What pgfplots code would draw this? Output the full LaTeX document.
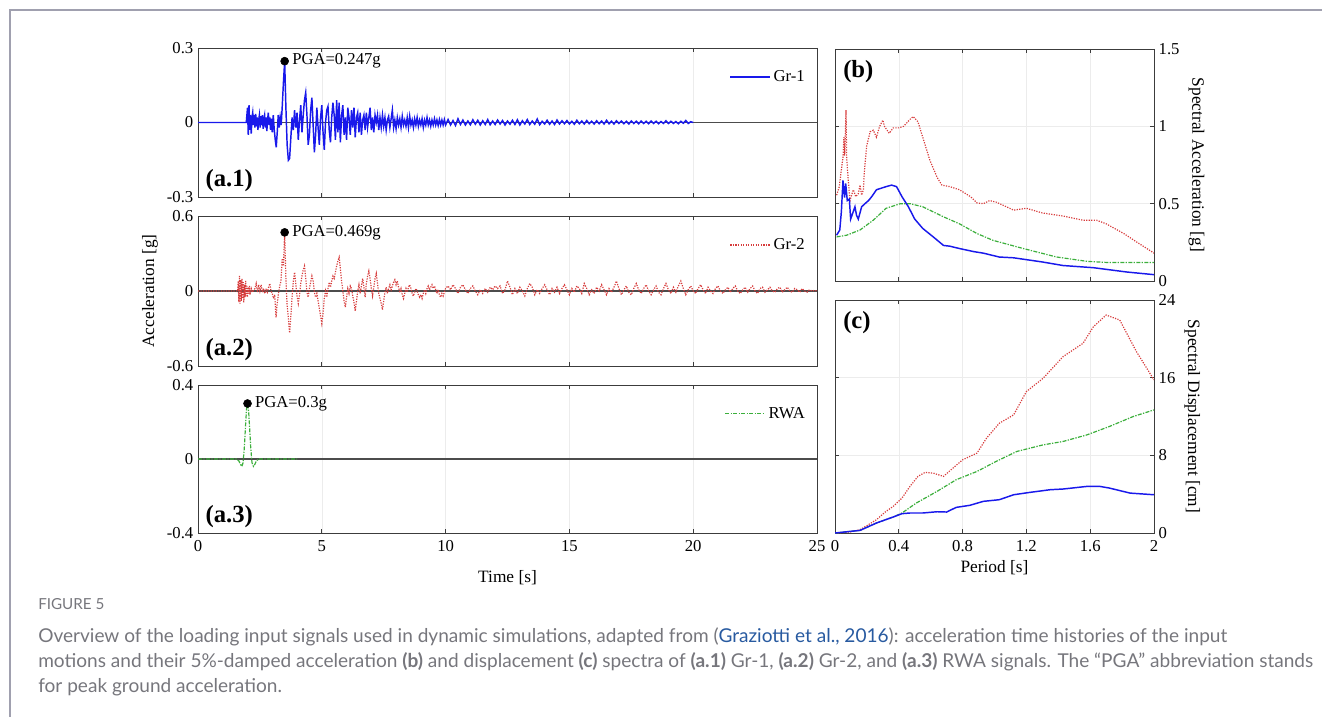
\documentclass[border=0pt]{standalone}
\usepackage{fontspec}
\setmainfont{Liberation Serif}
\newfontfamily\capfont{Lato}
\usepackage{pgfplots}
\pgfplotsset{compat=1.18}
\definecolor{gblue}{RGB}{25,25,235}
\definecolor{gred}{RGB}{215,60,60}
\definecolor{ggreen}{RGB}{60,175,60}
\definecolor{framec}{RGB}{160,160,175}
\definecolor{capgray}{RGB}{118,118,124}
\definecolor{caplink}{RGB}{40,90,160}
\definecolor{axc}{RGB}{60,60,60}
\pgfplotsset{
  every axis/.append style={
    scale only axis,
    font=\fontsize{12.5}{14}\selectfont,
    /pgf/number format/assume math mode=true,
    axis line style={axc, line width=0.6pt},
    every tick/.style={axc, line width=0.5pt},
    major tick length=3pt,
    grid=major,
    major grid style={gray!15, line width=0.4pt},
    label style={font=\fontsize{13}{15}\selectfont},
    xticklabel style={yshift=-2pt},
    legend style={draw=none, fill=none, inner sep=0pt, font=\fontsize{12.5}{14}\selectfont},
    legend cell align=left,
    legend image code/.code={\draw[#1] (0pt,0pt) -- (30pt,0pt);},
  },
}
\tikzset{
  tagstyle/.style={font=\bfseries\fontsize{18.5}{20}\selectfont, inner sep=0pt},
  pgastyle/.style={anchor=west, inner sep=0pt, xshift=5.5pt},
}
\begin{document}
\begin{tikzpicture}
\path[use as bounding box] (0pt,0pt) rectangle (991.5pt,-537.75pt);
\draw[framec, line width=1.1pt] (7.5pt,-537.75pt) -- (7.5pt,-7.5pt) -- (991.5pt,-7.5pt);

% ---------------- (a.1)
\begin{axis}[at={(148.5pt,-36pt)}, anchor=north west, width=464.25pt, height=111.75pt,
  xmin=0, xmax=25, ymin=-0.3, ymax=0.3,
  xtick={0,5,10,15,20,25}, xticklabels={},
  ytick={-0.3,0,0.3}, yticklabels={-0.3,0,0.3},
  legend style={at={(0.985,0.87)}, anchor=north east}]
\addplot[gray!60!black, line width=0.8pt, forget plot] coordinates {(0,0) (25,0)};
\addplot[gblue, line width=1.1pt] coordinates {
(0,0) (1.95,0) (2.00,0.06) (2.03,-0.05) (2.06,0.07) (2.09,-0.03) (2.12,0.03) (2.15,-0.045) (2.18,0.02) (2.21,0.04)
(2.24,-0.01) (2.27,0.03) (2.30,-0.02) (2.33,0.035) (2.36,-0.015) (2.39,0.02) (2.42,-0.03) (2.45,0.01) (2.48,0.03) (2.51,-0.02)
(2.54,0.025) (2.57,-0.01) (2.60,0.03) (2.63,-0.025) (2.66,0.015) (2.69,0.03) (2.72,-0.02) (2.75,0.02) (2.78,-0.035) (2.81,0.01)
(2.84,0.04) (2.87,-0.01) (2.90,0.02) (2.93,-0.03) (2.96,0.015) (3.00,-0.04) (3.04,0.03) (3.08,-0.03) (3.12,-0.07) (3.16,-0.10)
(3.20,-0.04) (3.24,0.03) (3.28,-0.02) (3.32,0.02) (3.36,-0.01) (3.40,0.06) (3.45,0.16) (3.50,0.247) (3.55,0.06) (3.60,-0.09)
(3.65,-0.152) (3.70,-0.145) (3.75,-0.06) (3.80,0.02) (3.85,-0.03) (3.90,0.05) (3.95,-0.02) (4.00,0.04) (4.05,-0.07) (4.10,0.01)
(4.15,0.07) (4.20,-0.04) (4.25,0.03) (4.30,0.09) (4.35,0.12) (4.40,0.03) (4.45,-0.09) (4.50,-0.05) (4.55,0.05) (4.60,0.10)
(4.65,-0.01) (4.70,-0.12) (4.75,-0.05) (4.80,0.06) (4.85,-0.02) (4.90,-0.09) (4.95,0.02) (5.00,0.07) (5.05,-0.04) (5.10,-0.11)
(5.15,0.00) (5.20,0.05) (5.25,0.065) (5.30,-0.03) (5.35,-0.08) (5.40,0.02) (5.45,0.08) (5.50,0.03) (5.55,-0.07) (5.60,0.09)
(5.65,-0.04) (5.70,0.08) (5.75,-0.08) (5.80,0.03) (5.85,0.07) (5.90,-0.05) (5.95,0.02) (6.00,-0.07) (6.05,0.06) (6.10,0.02)
(6.15,-0.05) (6.20,0.05) (6.25,-0.02) (6.30,0.06) (6.35,-0.06) (6.40,0.02) (6.45,0.04) (6.50,-0.04) (6.55,0.04) (6.60,-0.05)
(6.65,0.01) (6.70,0.03) (6.75,-0.03) (6.80,0.04) (6.85,-0.02) (6.90,0.02) (6.95,0.06) (7.00,-0.03) (7.05,0.02) (7.10,-0.04)
(7.15,0.03) (7.20,0.00) (7.25,0.03) (7.30,-0.03) (7.35,0.02) (7.40,-0.02) (7.45,0.03) (7.50,-0.015) (7.55,0.02) (7.60,-0.03)
(7.65,0.01) (7.70,0.025) (7.75,-0.02) (7.80,0.015) (7.85,0.05) (7.90,-0.02) (7.95,0.01) (8.00,-0.025) (8.05,0.02) (8.10,-0.01)
(8.15,0.015) (8.20,-0.02) (8.25,0.025) (8.30,-0.01) (8.35,0.01) (8.40,-0.015) (8.45,0.02) (8.50,-0.02) (8.55,0.025) (8.60,-0.01)
(8.65,0.01) (8.70,-0.02) (8.75,0.015) (8.80,-0.01) (8.85,0.02) (8.90,-0.015) (8.95,0.01) (9.00,-0.01) (9.05,0.015) (9.10,-0.02)
(9.15,0.01) (9.20,-0.01) (9.25,0.02) (9.30,-0.01) (9.35,0.01) (9.40,-0.015) (9.45,0.01) (9.50,-0.01) (9.55,0.015) (9.60,-0.01)
(9.65,0.01) (9.70,-0.012) (9.75,0.012) (9.80,-0.01) (9.85,0.01) (9.90,-0.01) (9.95,0.012) (10.0,-0.01)
(10.1,0.012) (10.2,-0.01) (10.3,0.008) (10.4,-0.012) (10.5,0.015) (10.6,-0.008) (10.7,0.01) (10.8,-0.01) (10.9,0.006) (11.0,-0.009)
(11.1,0.011) (11.2,-0.007) (11.3,0.009) (11.4,-0.01) (11.5,0.007) (11.6,-0.008) (11.7,0.012) (11.8,-0.009) (11.9,0.006) (12.0,-0.008)
(12.1,0.01) (12.2,-0.006) (12.3,0.008) (12.4,-0.01) (12.5,0.006) (12.6,-0.007) (12.7,0.009) (12.8,-0.008) (12.9,0.011) (13.0,-0.01)
(13.1,0.007) (13.2,-0.006) (13.3,0.012) (13.4,-0.008) (13.5,0.006) (13.6,-0.007) (13.7,0.014) (13.8,-0.009) (13.9,0.005) (14.0,-0.006)
(14.1,0.009) (14.2,-0.007) (14.3,0.006) (14.4,-0.008) (14.5,0.01) (14.6,-0.006) (14.7,0.007) (14.8,-0.005) (14.9,0.008) (15.0,-0.006)
(15.1,0.005) (15.2,-0.007) (15.3,0.009) (15.4,-0.005) (15.5,0.006) (15.6,-0.006) (15.7,0.008) (15.8,-0.005) (15.9,0.005) (16.0,-0.006)
(16.1,0.007) (16.2,-0.005) (16.3,0.006) (16.4,-0.006) (16.5,0.009) (16.6,-0.005) (16.7,0.005) (16.8,-0.006) (16.9,0.007) (17.0,-0.004)
(17.1,0.006) (17.2,-0.005) (17.3,0.005) (17.4,-0.006) (17.5,0.006) (17.6,-0.004) (17.7,0.005) (17.8,-0.005) (17.9,0.006) (18.0,-0.004)
(18.1,0.005) (18.2,-0.005) (18.3,0.006) (18.4,-0.004) (18.5,0.005) (18.6,-0.005) (18.7,0.004) (18.8,-0.004) (18.9,0.007) (19.0,-0.004)
(19.1,0.005) (19.2,-0.004) (19.3,0.004) (19.4,-0.005) (19.5,0.005) (19.6,-0.003) (19.7,0.008) (19.8,-0.004) (19.9,0.003) (20.0,0)
};
\addlegendentry{Gr-1}
\addplot[only marks, mark=*, mark size=3pt, black, forget plot] coordinates {(3.5,0.247)};
\node[pgastyle] at (axis cs:3.5,0.247) {PGA=0.247g};
\node[tagstyle, anchor=south west, xshift=5.5pt, yshift=4pt] at (rel axis cs:0,0) {(a.1)};
\end{axis}

% ---------------- (a.2)
\begin{axis}[at={(148.5pt,-162pt)}, anchor=north west, width=464.25pt, height=112.5pt,
  xmin=0, xmax=25, ymin=-0.6, ymax=0.6,
  xtick={0,5,10,15,20,25}, xticklabels={},
  ytick={-0.6,0,0.6}, yticklabels={-0.6,0,0.6},
  ylabel={Acceleration [g]},
  legend style={at={(0.985,0.87)}, anchor=north east}]
\addplot[gray!60!black, line width=0.8pt, forget plot] coordinates {(0,0) (25,0)};
\addplot[gred, line width=0.9pt, densely dotted] coordinates {
(0,0) (1.60,0) (1.625,0.08) (1.65,-0.09) (1.675,0.12) (1.70,-0.10) (1.725,0.09) (1.75,-0.08) (1.775,0.10) (1.80,-0.06)
(1.825,0.07) (1.85,-0.09) (1.875,0.05) (1.90,-0.05) (1.925,0.08) (1.95,-0.04) (1.975,0.04) (2.00,-0.05) (2.025,0.03) (2.05,-0.02)
(2.075,0.04) (2.10,-0.03) (2.15,0.02) (2.20,-0.01) (2.25,0.01) (2.30,0.02) (2.35,0.06) (2.40,-0.01) (2.45,0.05) (2.50,0.00)
(2.55,0.05) (2.60,-0.01) (2.65,0.02) (2.70,-0.02) (2.75,0.01) (2.80,-0.01) (2.85,0.03) (2.90,0.06) (2.95,0.00)
(3.00,-0.02) (3.05,-0.06) (3.10,-0.03) (3.15,-0.21) (3.20,-0.10) (3.25,-0.02) (3.30,0.04) (3.35,0.08) (3.40,0.26) (3.45,0.20)
(3.50,0.469) (3.55,0.10) (3.60,-0.12) (3.65,-0.22) (3.70,-0.335) (3.75,-0.20) (3.80,-0.05) (3.85,0.08) (3.90,0.15) (3.95,0.06)
(4.00,-0.04) (4.05,-0.10) (4.10,-0.03) (4.15,0.06) (4.20,0.12) (4.25,0.17) (4.30,0.20) (4.35,0.10) (4.40,-0.01) (4.45,-0.05)
(4.50,0.02) (4.55,0.07) (4.60,0.12) (4.65,0.08) (4.70,-0.01) (4.75,-0.05) (4.80,-0.02) (4.85,-0.08) (4.90,-0.14) (4.95,-0.20)
(5.00,-0.26) (5.05,-0.18) (5.10,-0.06) (5.15,0.00) (5.20,-0.05) (5.25,0.02) (5.30,0.07) (5.35,0.03) (5.40,0.08) (5.45,0.12)
(5.50,0.10) (5.55,0.15) (5.60,0.20) (5.65,0.24) (5.70,0.27) (5.75,0.18) (5.80,0.08) (5.85,0.00) (5.90,-0.08) (5.95,-0.13)
(6.00,-0.05) (6.05,0.02) (6.10,-0.02) (6.15,0.04) (6.20,0.02) (6.25,-0.04) (6.30,-0.09) (6.35,-0.16) (6.40,-0.08) (6.45,0.00)
(6.50,0.05) (6.55,-0.02) (6.60,0.04) (6.65,0.10) (6.70,0.03) (6.75,-0.05) (6.80,0.06) (6.85,0.12) (6.90,0.16) (6.95,0.10)
(7.00,0.02) (7.05,-0.04) (7.10,0.03) (7.15,0.10) (7.20,0.14) (7.25,0.06) (7.30,-0.02) (7.35,-0.06) (7.40,-0.10) (7.45,-0.15)
(7.50,-0.08) (7.55,-0.01) (7.60,0.03) (7.65,-0.02) (7.70,0.02) (7.75,0.05) (7.80,0.01) (7.85,0.04) (7.90,0.07) (7.95,0.09)
(8.00,0.05) (8.05,0.08) (8.10,0.03) (8.15,-0.01) (8.20,0.02) (8.25,-0.03) (8.30,-0.06) (8.35,-0.02) (8.40,0.02) (8.45,-0.01)
(8.50,0.03) (8.55,0.05) (8.60,0.02) (8.65,-0.02) (8.70,-0.04) (8.75,-0.01) (8.80,0.02) (8.85,0.00) (8.90,-0.03) (8.95,-0.05)
(9.00,-0.03) (9.05,-0.06) (9.10,-0.02) (9.15,0.01) (9.20,-0.02) (9.25,0.02) (9.30,0.04) (9.35,0.01) (9.40,0.03) (9.45,0.05)
(9.50,0.02) (9.55,0.04) (9.60,0.01) (9.65,-0.02) (9.70,0.01) (9.75,-0.03) (9.80,-0.05) (9.85,-0.02) (9.90,-0.04) (9.95,-0.01)
(10.0,0.02) (10.1,0.04) (10.2,0.01) (10.3,0.05) (10.4,0.02) (10.5,-0.02) (10.6,0.03) (10.7,0.05) (10.8,0.01) (10.9,-0.02)
(11.0,0.02) (11.1,0.04) (11.2,0.00) (11.3,-0.03) (11.4,0.01) (11.5,-0.02) (11.6,0.02) (11.7,-0.01) (11.8,0.03) (11.9,0.01)
(12.0,0.04) (12.1,0.02) (12.2,0.04) (12.3,-0.02) (12.4,0.01) (12.5,0.08) (12.6,0.03) (12.7,-0.03) (12.8,0.02) (12.9,-0.02)
(13.0,0.03) (13.1,0.00) (13.2,-0.04) (13.3,0.02) (13.4,0.06) (13.5,0.03) (13.6,-0.03) (13.7,0.01) (13.8,-0.02) (13.9,0.02)
(14.0,0.05) (14.1,0.01) (14.2,-0.03) (14.3,0.02) (14.4,-0.01) (14.5,0.03) (14.6,-0.02) (14.7,0.02) (14.8,0.05) (14.9,0.01)
(15.0,-0.03) (15.1,0.02) (15.2,-0.01) (15.3,0.04) (15.4,0.02) (15.5,-0.02) (15.6,0.06) (15.7,0.02) (15.8,-0.03) (15.9,0.01)
(16.0,-0.02) (16.1,0.03) (16.2,0.00) (16.3,0.05) (16.4,0.01) (16.5,-0.03) (16.6,0.02) (16.7,-0.01) (16.8,0.03) (16.9,0.08)
(17.0,0.02) (17.1,-0.03) (17.2,0.01) (17.3,0.04) (17.4,-0.01) (17.5,-0.03) (17.6,0.02) (17.7,0.06) (17.8,0.01) (17.9,-0.02)
(18.0,0.02) (18.1,0.05) (18.2,0.00) (18.3,-0.03) (18.4,0.01) (18.5,0.04) (18.6,-0.01) (18.7,-0.03) (18.8,0.02) (18.9,0.06)
(19.0,0.01) (19.1,-0.02) (19.2,0.03) (19.3,-0.01) (19.4,0.04) (19.5,0.08) (19.6,0.02) (19.7,-0.03) (19.8,0.01) (19.9,0.04)
(20.0,0.00) (20.1,-0.02) (20.2,0.02) (20.3,0.05) (20.4,0.01) (20.5,-0.02) (20.6,0.03) (20.7,0.00) (20.8,-0.02) (20.9,0.02)
(21.0,0.04) (21.1,0.00) (21.2,-0.02) (21.3,0.01) (21.4,0.03) (21.5,-0.01) (21.6,0.02) (21.7,0.04) (21.8,0.00) (21.9,-0.02)
(22.0,0.01) (22.1,0.03) (22.2,-0.01) (22.3,0.02) (22.4,0.04) (22.5,0.00) (22.6,-0.02) (22.7,0.02) (22.8,0.03) (22.9,-0.01)
(23.0,0.01) (23.1,0.03) (23.2,0.00) (23.3,-0.01) (23.4,0.02) (23.5,0.03) (23.6,-0.01) (23.7,0.01) (23.8,0.03) (23.9,0.00)
(24.0,-0.01) (24.1,0.02) (24.2,0.01) (24.3,-0.01) (24.4,0.02) (24.5,0.00) (24.6,-0.01) (24.7,0.01) (24.8,0.00) (24.9,0.005) (25.0,0)
};
\addlegendentry{Gr-2}
\addplot[only marks, mark=*, mark size=3pt, black, forget plot] coordinates {(3.5,0.469)};
\node[pgastyle] at (axis cs:3.5,0.469) {PGA=0.469g};
\node[tagstyle, anchor=south west, xshift=5.5pt, yshift=4pt] at (rel axis cs:0,0) {(a.2)};
\end{axis}

% ---------------- (a.3)
\begin{axis}[at={(148.5pt,-288.75pt)}, anchor=north west, width=464.25pt, height=111pt,
  xmin=0, xmax=25, ymin=-0.4, ymax=0.4,
  xtick={0,5,10,15,20,25}, xticklabels={0,5,10,15,20,25},
  ytick={-0.4,0,0.4}, yticklabels={-0.4,0,0.4},
  xlabel={Time [s]}, xlabel style={yshift=-7pt},
  legend style={at={(0.985,0.87)}, anchor=north east}]
\addplot[gray!60!black, line width=0.8pt, forget plot] coordinates {(0,0) (25,0)};
\addplot[ggreen, line width=0.9pt, dash pattern=on 3pt off 1pt on 1pt off 1pt] coordinates {
(0,0) (1.55,0) (1.65,-0.01) (1.72,-0.03) (1.77,-0.04) (1.82,-0.02) (1.87,0.06) (1.92,0.18) (1.96,0.27) (2.00,0.30)
(2.04,0.27) (2.08,0.18) (2.13,0.06) (2.18,-0.02) (2.24,-0.04) (2.29,-0.03) (2.36,-0.01) (2.45,0) (4.0,0)
};
\addlegendentry{RWA}
\addplot[only marks, mark=*, mark size=3pt, black, forget plot] coordinates {(2.0,0.30)};
\node[pgastyle] at (axis cs:2.0,0.30) {PGA=0.3g};
\node[tagstyle, anchor=south west, xshift=5.5pt, yshift=4pt] at (rel axis cs:0,0) {(a.3)};
\end{axis}

% ---------------- (b)
\begin{axis}[at={(626.25pt,-36.75pt)}, anchor=north west, width=239.25pt, height=174pt,
  xmin=0, xmax=2, ymin=0, ymax=1.5,
  xtick={0,0.4,0.8,1.2,1.6,2}, xticklabels={},
  ytick={0,0.5,1,1.5}, yticklabels={0,0.5,1,1.5},
  yticklabel pos=right,
  ylabel={Spectral Acceleration [g]}, ylabel style={rotate=180}]
\addplot[gred, line width=0.9pt, densely dotted] coordinates {
(0.01,0.555) (0.027,0.61) (0.04,0.72) (0.05,0.80) (0.056,0.93) (0.06,0.81) (0.065,0.955) (0.069,1.105) (0.073,0.80) (0.08,0.695)
(0.088,0.59) (0.094,0.52) (0.104,0.555) (0.115,0.59) (0.13,0.545) (0.146,0.565) (0.157,0.62) (0.167,0.555) (0.178,0.59) (0.184,0.705)
(0.198,0.87) (0.22,0.965) (0.24,0.975) (0.26,0.93) (0.28,1.0) (0.30,1.04) (0.31,1.0) (0.34,0.955) (0.365,0.99) (0.40,0.99)
(0.43,1.0) (0.47,1.045) (0.49,1.063) (0.52,1.03) (0.55,0.93) (0.595,0.78) (0.64,0.67) (0.67,0.62) (0.72,0.61) (0.78,0.59)
(0.85,0.545) (0.89,0.505) (0.93,0.50) (0.97,0.52) (1.01,0.51) (1.075,0.48) (1.12,0.458) (1.20,0.47) (1.30,0.44) (1.43,0.42)
(1.555,0.393) (1.64,0.393) (1.70,0.37) (1.81,0.307) (1.89,0.253) (2.0,0.18)
};
\addplot[ggreen, line width=0.9pt, dash pattern=on 3pt off 1pt on 1pt off 1pt] coordinates {
(0.01,0.285) (0.073,0.296) (0.157,0.33) (0.24,0.393) (0.32,0.47) (0.41,0.50) (0.47,0.50) (0.55,0.48) (0.68,0.415) (0.78,0.37)
(0.89,0.307) (0.99,0.263) (1.18,0.21) (1.39,0.155) (1.58,0.127) (1.72,0.119) (2.0,0.119)
};
\addplot[gblue, line width=1.1pt] coordinates {
(0.01,0.296) (0.03,0.33) (0.04,0.45) (0.05,0.65) (0.06,0.54) (0.067,0.63) (0.077,0.52) (0.09,0.53) (0.098,0.40) (0.115,0.45)
(0.125,0.48) (0.135,0.425) (0.146,0.40) (0.167,0.48) (0.188,0.50) (0.21,0.52) (0.23,0.545) (0.26,0.59) (0.29,0.60) (0.32,0.61)
(0.355,0.62) (0.386,0.61) (0.42,0.545) (0.46,0.48) (0.50,0.40) (0.55,0.34) (0.616,0.285) (0.68,0.23) (0.72,0.225) (0.78,0.21)
(0.87,0.19) (0.93,0.18) (1.03,0.155) (1.12,0.15) (1.30,0.123) (1.43,0.10) (1.62,0.086) (1.83,0.058) (2.0,0.041)
};
\node[tagstyle, anchor=north west, xshift=6pt, yshift=-8pt] at (rel axis cs:0,1) {(b)};
\end{axis}

% ---------------- (c)
\begin{axis}[at={(626.25pt,-225pt)}, anchor=north west, width=239.25pt, height=174.75pt,
  xmin=0, xmax=2, ymin=0, ymax=24,
  xtick={0,0.4,0.8,1.2,1.6,2}, xticklabels={0,0.4,0.8,1.2,1.6,2},
  ytick={0,8,16,24}, yticklabels={0,8,16,24},
  yticklabel pos=right,
  xlabel={Period [s]},
  ylabel={Spectral Displacement [cm]}, ylabel style={rotate=180}]
\addplot[gred, line width=0.9pt, densely dotted] coordinates {
(0,0) (0.094,0.1) (0.157,0.34) (0.21,0.86) (0.26,1.37) (0.32,2.23) (0.365,2.74) (0.42,3.6) (0.47,4.8) (0.52,5.83)
(0.564,6.24) (0.616,6.17) (0.68,5.83) (0.74,6.69) (0.80,7.54) (0.89,8.23) (0.95,9.77) (1.03,11.3) (1.12,12.17) (1.20,14.57)
(1.305,15.94) (1.43,18.17) (1.555,19.54) (1.62,21.25) (1.70,22.45) (1.785,21.94) (1.89,18.68) (2.0,15.77)
};
\addplot[ggreen, line width=0.9pt, dash pattern=on 3pt off 1pt on 1pt off 1pt] coordinates {
(0,0) (0.157,0.27) (0.26,1.03) (0.365,1.65) (0.42,2.06) (0.51,3.09) (0.64,4.29) (0.76,5.49) (0.89,6.34) (1.01,7.37)
(1.14,8.4) (1.305,9.08) (1.43,9.43) (1.58,10.11) (1.72,10.97) (1.87,12.0) (2.0,12.68)
};
\addplot[gblue, line width=1.1pt] coordinates {
(0,0) (0.157,0.27) (0.26,1.03) (0.365,1.65) (0.42,1.99) (0.47,2.06) (0.55,2.06) (0.64,2.19) (0.70,2.16) (0.76,2.64)
(0.845,2.85) (0.93,3.26) (1.03,3.43) (1.12,3.94) (1.22,4.18) (1.35,4.46) (1.43,4.53) (1.58,4.8) (1.66,4.8) (1.72,4.63)
(1.85,4.11) (2.0,3.94)
};
\node[tagstyle, anchor=north west, xshift=6pt, yshift=-8pt] at (rel axis cs:0,1) {(c)};
\end{axis}

% ---------------- caption
\begin{scope}[every node/.style={anchor=base west, inner sep=0pt, text=capgray}]
\node[font=\capfont\fontsize{11.4}{13}\selectfont] at (28.5pt,-456.75pt) {FIGURE 5};
\node[font=\capfont\fontsize{14.3}{16}\selectfont] at (28.5pt,-481.5pt) {Overview of the loading input signals used in dynamic simulations, adapted from ({\color{caplink}Graziotti et al., 2016}): acceleration time histories of the input};
\node[font=\capfont\fontsize{14.3}{16}\selectfont] at (28.5pt,-500.25pt) {motions and their 5\%-damped acceleration \textbf{(b)} and displacement \textbf{(c)} spectra of \textbf{(a.1)} Gr-1, \textbf{(a.2)} Gr-2, and \textbf{(a.3)} RWA signals. The “PGA” abbreviation stands};
\node[font=\capfont\fontsize{14.3}{16}\selectfont] at (28.5pt,-519pt) {for peak ground acceleration.};
\end{scope}
\end{tikzpicture}
\end{document}
